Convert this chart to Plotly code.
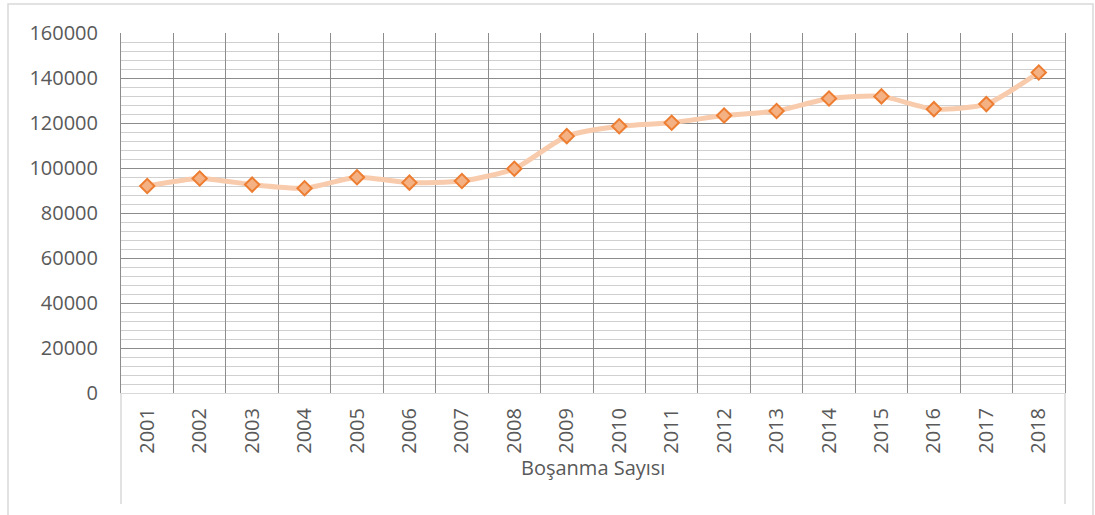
import plotly.graph_objects as go

years = [str(y) for y in range(2001, 2019)]
divorces = [91994, 95323, 92637, 91022, 95895, 93489, 94219, 99663, 114162,
            118568, 120117, 123325, 125305, 130913, 131830, 126164, 128411, 142448]
y_ticks = [0, 20000, 40000, 60000, 80000, 100000, 120000, 140000, 160000]
group_label = "Boşanma Sayısı"

W, H = 1095, 515
L, R, T, B = 121, 30, 33, 122
pw = W - L - R
ph = H - T - B

def px_x(px):
    return (px - L) / pw

def px_y(py):
    return (H - B - py) / ph

fig = go.Figure()
fig.add_trace(go.Scatter(
    x=years, y=divorces, mode="lines+markers",
    line=dict(color="#f8cbad", width=5, shape="spline", smoothing=0.6),
    marker=dict(symbol="diamond", size=11, color="#f4b183",
                line=dict(color="#ed7d31", width=2)),
    hoverinfo="x+y", showlegend=False, cliponaxis=False,
))

fig.update_layout(
    width=W, height=H,
    margin=dict(l=L, r=R, t=T, b=B, autoexpand=False),
    paper_bgcolor="white", plot_bgcolor="white",
    font=dict(family="Open Sans, Liberation Sans, sans-serif", color="#595959", size=20),
    xaxis=dict(
        type="category", tickson="boundaries", showgrid=True,
        range=[-0.5, len(years) - 0.5], automargin=False,
        gridcolor="#8c8c8c", gridwidth=1,
        tickangle=-90, ticks="", ticklabelstandoff=6,
        showline=True, linecolor="#d9d9d9", linewidth=1, mirror=False,
        tickfont=dict(size=20, color="#595959"),
        zeroline=False,
    ),
    yaxis=dict(
        range=[0, 160000], tickvals=y_ticks, ticktext=[str(v) for v in y_ticks],
        automargin=False,
        showgrid=True, gridcolor="#8c8c8c", gridwidth=1,
        minor=dict(dtick=4000, showgrid=True, gridcolor="#d0d0d0", gridwidth=1),
        showline=True, linecolor="#8c8c8c", linewidth=1, mirror=True,
        zeroline=False, ticks="", ticklabelstandoff=18,
        tickfont=dict(size=20, color="#595959"),
    ),
    shapes=[
        # category group box sides
        dict(type="line", xref="paper", yref="paper", x0=0, x1=0,
             y0=0, y1=px_y(504), line=dict(color="#d9d9d9", width=1.5)),
        dict(type="line", xref="paper", yref="paper", x0=1, x1=1,
             y0=0, y1=px_y(504), line=dict(color="#d9d9d9", width=1.5)),
        # outer chart border
        dict(type="rect", xref="paper", yref="paper",
             x0=px_x(8), x1=px_x(1093), y0=px_y(530), y1=px_y(4),
             line=dict(color="#d9d9d9", width=1.5), fillcolor="rgba(0,0,0,0)",
             layer="below"),
    ],
    annotations=[
        dict(text=group_label, xref="paper", yref="paper", x=0.5, y=px_y(467),
             showarrow=False, xanchor="center", yanchor="middle",
             font=dict(size=20, color="#595959")),
    ],
)

fig.write_html("out.html", config={"displayModeBar": False})

# remove default page margin so the figure sits at the window origin
with open("out.html", "r", encoding="utf-8") as f:
    html = f.read()
html = html.replace("<body>", '<body style="margin:0;padding:0;overflow:hidden">', 1)
with open("out.html", "w", encoding="utf-8") as f:
    f.write(html)
